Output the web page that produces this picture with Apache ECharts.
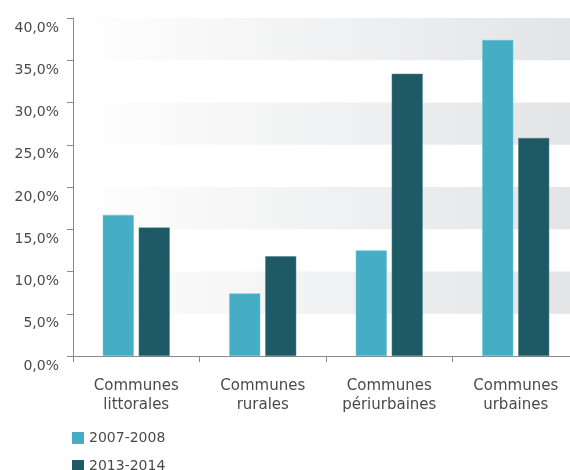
<!DOCTYPE html>
<html><head><meta charset="utf-8">
<script src="https://cdn.jsdelivr.net/npm/echarts@6/dist/echarts.min.js"></script>
<style>html,body{margin:0;padding:0;background:#fff}#c{width:570px;height:470px}</style>
</head><body><div id="c"></div>
<script>
const categories = ['Communes\nlittorales', 'Communes\nrurales', 'Communes\npériurbaines', 'Communes\nurbaines'];
const seriesNames = ['2007-2008', '2013-2014'];
const values2007 = [16.7, 7.4, 12.5, 37.4];
const values2013 = [15.2, 11.8, 33.4, 25.8];
const yTicks = { min: 0, max: 40, interval: 5 };

const font = 'DejaVu Sans';
const chart = echarts.init(document.getElementById('c'), null, { renderer: 'canvas' });
const band = new echarts.graphic.LinearGradient(0, 0, 1, 0, [
  { offset: 0, color: '#ffffff' }, { offset: 1, color: '#e3e4e6' }
]);
const legendBase = {
  orient: 'horizontal', left: 67, itemWidth: 12, itemHeight: 12, icon: 'rect',
  itemStyle: { borderWidth: 0 },
  textStyle: { fontFamily: font, fontSize: 14, color: '#4a4a4a' }
};
chart.setOption({
  animation: false,
  backgroundColor: '#fff',
  grid: { left: 73, top: 18, bottom: 114, width: 506, outerBoundsMode: 'none', containLabel: false },
  legend: [
    Object.assign({}, legendBase, { top: 426, data: [seriesNames[0]] }),
    Object.assign({}, legendBase, { top: 454, data: [seriesNames[1]] })
  ],
  xAxis: {
    type: 'category', data: categories,
    axisLine: { lineStyle: { color: '#8a8a8a', width: 1 } },
    axisTick: { show: true, length: 6, lineStyle: { color: '#8a8a8a' } },
    axisLabel: { fontFamily: font, fontSize: 15, color: '#4a4a4a', lineHeight: 19, margin: 21 }
  },
  yAxis: {
    type: 'value', min: yTicks.min, max: yTicks.max, interval: yTicks.interval,
    axisLine: { show: true, lineStyle: { color: '#8a8a8a', width: 1 } },
    axisTick: { show: true, length: 6, lineStyle: { color: '#8a8a8a' } },
    splitLine: { show: false },
    splitArea: { show: true, areaStyle: { color: ['rgba(255,255,255,0)', band] } },
    axisLabel: {
      fontFamily: font, fontSize: 14, color: '#4a4a4a', margin: 14, verticalAlign: 'top', padding: [3, 0, 0, 0],
      formatter: v => v.toFixed(1).replace('.', ',') + '%'
    }
  },
  series: [
    { name: seriesNames[0], type: 'bar', data: values2007, barWidth: 31, barGap: '16%',
      itemStyle: { color: '#46aec4', borderColor: '#6cc3d4', borderWidth: 0.5 } },
    { name: seriesNames[1], type: 'bar', data: values2013, barWidth: 31,
      itemStyle: { color: '#1e5a65', borderColor: '#4a7f88', borderWidth: 0.5 } }
  ]
});
</script></body></html>
